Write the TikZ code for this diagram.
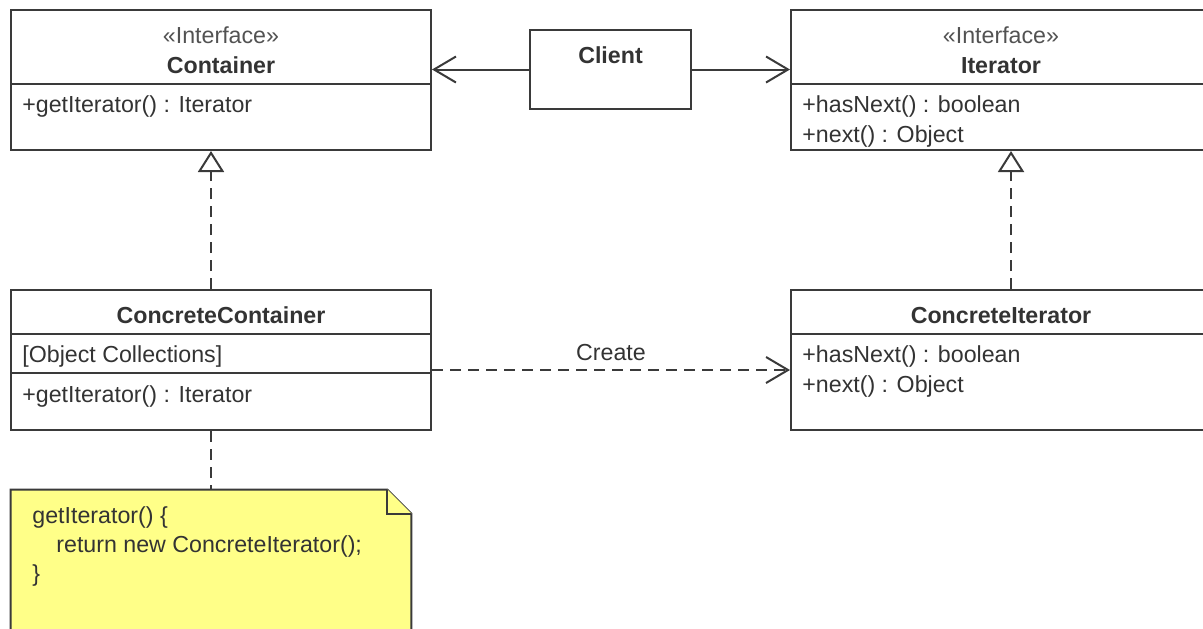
\documentclass[tikz,border=0pt]{standalone}
\usepackage{fontspec}
\setmainfont{Liberation Sans}
\usetikzlibrary{arrows.meta, positioning}
\definecolor{umlline}{HTML}{3A3A3A}
\definecolor{umltext}{HTML}{333333}
\definecolor{notefill}{HTML}{FFFF88}
\tikzset{
    classbox/.style={draw=umlline, line width=1pt, rectangle, inner sep=0pt, minimum width=210pt, minimum height=70pt},
    title/.style={font=\bfseries, text=umltext, anchor=base, inner sep=0pt},
    stereo/.style={text=umltext!85, anchor=base, inner sep=0pt},
    member/.style={text=umltext, anchor=base west, inner sep=0pt},
    divider/.style={draw=umlline, line width=1pt},
    assoc/.style={draw=umlline, line width=1pt, -{Straight Barb[length=11pt, width=13pt]}},
    realize/.style={draw=umlline, line width=1pt, dash pattern=on 5.5pt off 3.5pt, -{Triangle[open, length=10.5pt, width=13pt, fill=white]}},
    depend/.style={draw=umlline, line width=1pt, dash pattern=on 5.5pt off 3.5pt, -{Straight Barb[length=11pt, width=13pt]}},
    noteline/.style={draw=umlline, line width=1pt, dash pattern=on 5.5pt off 3.5pt},
    notebox/.style={draw=umlline, line width=1pt, fill=notefill, line join=miter} }

\begin{document}
\fontsize{11.6}{14}\selectfont
\begin{tikzpicture}[x=0.5pt, y=-0.5pt]
    \useasboundingbox (0,0) rectangle (1203,628);
    \clip (0,0) rectangle (1203,628);
    % boxes
    \node[classbox] (container) at (221,80) {};
    \node[classbox] (iterator) at (1001,80) {};
    \node[classbox, minimum width=80.5pt, minimum height=39.5pt] (client) at (610.5,69.5) {};
    \node[classbox] (cContainer) at (221,360) {};
    \node[classbox] (cIterator) at (1001,360) {};
    \node[inner sep=0pt, minimum width=200pt, minimum height=100pt] (note) at (211,590) {};
    % ----
    \draw[divider] (container.west |- 0,84) -- (container.east |- 0,84);
    \draw[divider] (iterator.west |- 0,84) -- (iterator.east |- 0,84);
    \draw[divider] (cContainer.west |- 0,334) -- (cContainer.east |- 0,334);
    \draw[divider] (cContainer.west |- 0,373) -- (cContainer.east |- 0,373);
    \draw[divider] (cIterator.west |- 0,334) -- (cIterator.east |- 0,334);
    % texts
    \node[stereo] (containerStereo) at (221,43) {«Interface»};
    \node[title] (containerName) at (221,73) {Container};
    \node[member] (containerOp) at (22,112) {+getIterator() : Iterator};

    \node[title] (clientName) at (610.5,63) {Client};

    \node[stereo] (iteratorStereo) at (1001,43) {«Interface»};
    \node[title] (iteratorName) at (1001,73) {Iterator};
    \node[member] (iteratorOpA) at (802,112) {+hasNext() : boolean};
    \node[member] (iteratorOpB) at (802,142) {+next() : Object};

    \node[title] (cContainerName) at (221,323) {ConcreteContainer};
    \node[member] (cContainerAttr) at (22,362) {[Object Collections]};
    \node[member] (cContainerOp) at (22,402) {+getIterator() : Iterator};

    \node[title] (cIteratorName) at (1001,323) {ConcreteIterator};
    \node[member] (cIteratorOpA) at (802,362) {+hasNext() : boolean};
    \node[member] (cIteratorOpB) at (802,392) {+next() : Object};
    % note
    \draw[notebox] (note.north west) -- ([xshift=-12pt]note.north east)
        -- ([yshift=-12pt]note.north east) -- (note.south east)
        -- (note.south west) -- cycle;
    \draw[notebox] ([xshift=-12pt]note.north east) -- ++(0,24) -- ([yshift=-12pt]note.north east);
    \node[member] (noteA) at (32,523) {getIterator() \{};
    \node[member] (noteB) at (56,552) {return new ConcreteIterator();};
    \node[member] (noteC) at (32,581) {\}};
    % connectors
    \draw[assoc] (client.west) -- (client.west -| container.east);
    \draw[assoc] (client.east) -- (client.east -| iterator.west);
    \draw[realize] ([xshift=-5pt]cContainer.north) -- ([xshift=-5pt]container.south);
    \draw[realize] ([xshift=5pt]cIterator.north) -- ([xshift=5pt]iterator.south);
    \draw[depend] (cContainer.east |- 0,370) -- (cIterator.west |- 0,370)
        node[midway, anchor=base, yshift=5pt, text=umltext] (createLabel) {Create};
    \draw[noteline] ([xshift=-5pt]cContainer.south) -- (note.north);
\end{tikzpicture}
\end{document}
